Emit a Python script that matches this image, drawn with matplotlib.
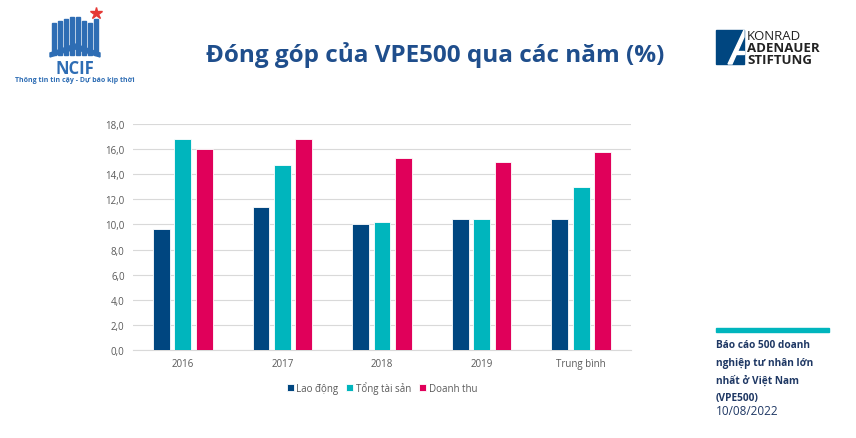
import numpy as np
import matplotlib.pyplot as plt
from matplotlib.patches import Rectangle, Polygon

categories = ['2016', '2017', '2018', '2019', 'Trung bình']
lao_dong = [9.6, 11.4, 10.0, 10.4, 10.4]
tong_tai_san = [16.8, 14.7, 10.2, 10.4, 13.0]
doanh_thu = [16.0, 16.8, 15.3, 15.0, 15.8]
series_names = ['Lao động', 'Tổng tài sản', 'Doanh thu']
colors = ['#004680', '#00B5BD', '#E0005A']
yticks = np.arange(0, 18.1, 2)

W, H = 856, 439
plt.rcParams['font.family'] = ['Open Sans', 'DejaVu Sans']
fig = plt.figure(figsize=(W / 100, H / 100), dpi=100)


def px(x0, y0, x1, y1):
    # pixel box (top-left origin) -> figure fraction rect
    return [x0 / W, 1 - y1 / H, (x1 - x0) / W, (y1 - y0) / H]


ax = fig.add_axes(px(133, 125, 631, 351))
x = np.arange(len(categories))
bw = 0.17
step = 0.215
for i, (vals, name, c) in enumerate(zip([lao_dong, tong_tai_san, doanh_thu], series_names, colors)):
    ax.bar(x + (i - 1) * step, vals, width=bw, color=c, edgecolor='white', linewidth=0.6,
           label=name, zorder=3)

ax.set_xlim(-0.5, len(categories) - 0.5)
ax.set_ylim(0, 18)
ax.set_yticks(yticks)
ax.set_yticklabels([f'{v:.1f}'.replace('.', ',') for v in yticks])
ax.set_xticks(x)
ax.set_xticklabels(categories)
ax.tick_params(length=0, labelsize=7, colors='#595959', pad=6)
ax.grid(axis='y', color='#D9D9D9', linewidth=0.8, zorder=0)
for s in ['top', 'right', 'left']:
    ax.spines[s].set_visible(False)
ax.spines['bottom'].set_color('#D9D9D9')

leg = ax.legend(loc='upper center', bbox_to_anchor=(0.5, -0.1), ncol=3, frameon=False,
                fontsize=7, handlelength=0.7, handleheight=0.7, handletextpad=0.3,
                columnspacing=0.8, labelcolor='#595959')

# title
fig.text(435 / W, 1 - 55 / H, 'Đóng góp của VPE500 qua các năm (%)', ha='center', va='center',
         fontsize=17.5, fontweight='bold', color='#1F4E8C')

# NCIF logo (simplified)
lg = fig.add_axes(px(0, 0, 200, 90))
lg.set_xlim(0, 200)
lg.set_ylim(90, 0)
lg.axis('off')
blue = '#2E6DB4'
for x0, h in [(52, 32), (58, 34), (64, 36), (70, 38), (76, 38), (82, 34), (88, 32), (94, 36)]:
    lg.add_patch(Rectangle((x0, 56 - h), 3.5, h, color=blue))
lg.add_patch(Polygon([[50, 54], [75, 45], [100, 54], [100, 58], [75, 50], [50, 58]], color=blue))
lg.plot([96], [14], marker='*', color='#E53935', markersize=9)
lg.text(75, 69, 'NCIF', ha='center', va='center', fontsize=12, fontweight='bold', color=blue)
lg.text(75, 80, 'Thông tin tin cậy - Dự báo kịp thời', ha='center', va='center',
        fontsize=5, fontweight='bold', color=blue)

# KAS logo (simplified)
kas = fig.add_axes(px(700, 20, 856, 80))
kas.set_xlim(700, 856)
kas.set_ylim(80, 20)
kas.axis('off')
kas.add_patch(Rectangle((716, 31), 28, 34, color='#004680'))
kas.add_patch(Polygon([[728, 65], [744, 31], [744, 38], [732, 65]], color='white'))
kas.add_patch(Polygon([[735, 52], [744, 52], [744, 55], [734, 55]], color='white'))
kas.text(747, 36, 'KONRAD', fontsize=9.5, color='#222222', va='center')
kas.text(747, 48, 'ADENAUER', fontsize=9.5, color='#222222', fontweight='bold', va='center')
kas.text(747, 60, 'STIFTUNG', fontsize=9.5, color='#222222', fontweight='bold', va='center')

# side note
fig.add_artist(Rectangle((716 / W, 1 - 333 / H), 113 / W, 4 / H, color='#00B5BD',
                         transform=fig.transFigure))
side_lines = ['Báo cáo 500 doanh', 'nghiệp tư nhân lớn', 'nhất ở Việt Nam', '(VPE500)']
for k, line in enumerate(side_lines):
    fig.text(716 / W, 1 - (346 + k * 17.5) / H, line, fontsize=7.3, fontweight='bold',
             color='#1F3864', va='center')
fig.text(716 / W, 1 - 412 / H, '10/08/2022', fontsize=8.5, color='#1F3864', va='center')

fig.savefig('out.png', dpi=100)
